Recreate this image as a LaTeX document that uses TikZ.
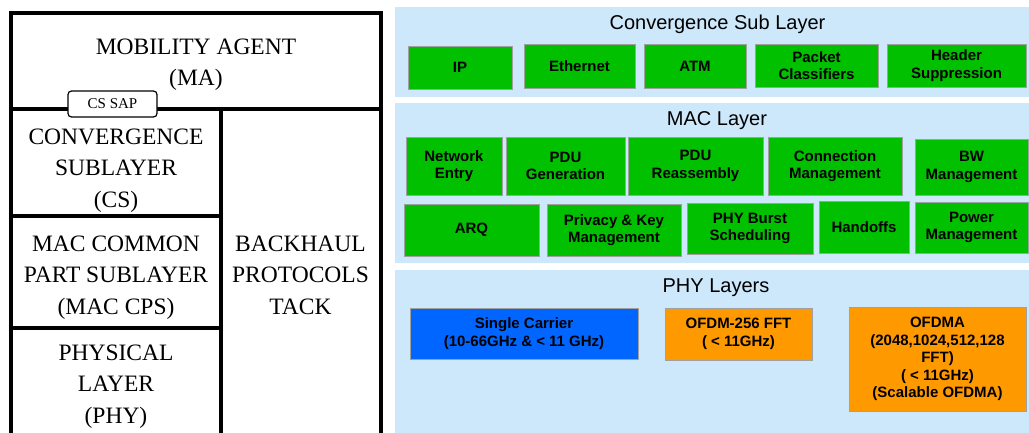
\documentclass[tikz,border=0pt]{standalone}
\usepackage{fontspec}
\setmainfont{Liberation Serif}
\newfontfamily\arialfont{Liberation Sans}
\definecolor{panelblue}{RGB}{204,232,250}
\definecolor{boxgreen}{RGB}{0,192,0}
\definecolor{boxblue}{RGB}{0,102,255}
\definecolor{boxorange}{RGB}{255,153,0}
\definecolor{boxedge}{RGB}{160,160,160}
\begin{document}
\begin{tikzpicture}[x=1pt,y=-1pt,
  box/.style n args={4}{at={({(#1+#3)/2},{(#2+#4)/2})}, minimum width={(#3)-(#1)}, minimum height={(#4)-(#2)}},
  layer/.style={draw=black, line width=4pt, inner sep=0pt, outer sep=0pt},
  serif/.style={font=\fontsize{23.5}{31.5}\selectfont, align=center, inner sep=0pt},
  sap/.style={draw=black, line width=1.2pt, fill=white, rounded corners=3.5pt, font=\fontsize{15}{18}\selectfont, inner sep=0pt},
  panel/.style={fill=panelblue, draw=none, inner sep=0pt},
  title/.style={font=\arialfont\fontsize{20}{24}\selectfont, anchor=base, inner sep=0pt},
  item/.style={draw=boxedge, line width=0.9pt, fill=boxgreen, font=\arialfont\bfseries\fontsize{15}{17.5}\selectfont, align=center, inner sep=0pt},
]
\useasboundingbox (0,0) rectangle (1029,433);
\fill[white] (0,0) rectangle (1029,433);

% ---------- left: protocol stack ----------
\node[layer, box={11}{13.5}{380.5}{109.5}] (ma) {};
\node[layer, box={11}{109.5}{221}{216}] (cs) {};
\node[layer, box={11}{216}{221}{327.5}] (cps) {};
\node[layer, box={11}{327.5}{221}{445}] (phy) {};
\node[layer, box={221}{109.5}{380.5}{445}] (bh) {};

\node[serif] (matext) at (196,64.5) {MOBILITY AGENT\\(MA)};
\node[serif] (cstext) at (116,170.5) {CONVERGENCE\\SUBLAYER\\(CS)};
\node[serif] (cpstext) at (116,277.5) {MAC COMMON\\PART SUBLAYER\\(MAC CPS)};
\node[serif] (phytext) at (116,386.5) {PHYSICAL\\LAYER\\(PHY)};
\node[serif] (bhtext) at (300.5,275) {BACKHAUL\\PROTOCOLS\\TACK};

\node[sap, box={68}{91}{157}{117}] (sap) {CS SAP};

% ---------- right: panels ----------
\node[panel, box={395}{7}{1029}{97}] (p1) {};
\node[panel, box={395}{103}{1029}{263}] (p2) {};
\node[panel, box={395}{270}{1029}{445}] (p3) {};

\node[title] (t1) at (717.5,30) {Convergence Sub Layer};
\node[title] (t2) at (717,126) {MAC Layer};
\node[title] (t3) at (716,292) {PHY Layers};

% convergence sub layer
\node[item, box={408}{46}{512}{89}] (ip) {IP};
\node[item, box={524}{44}{635}{88}] (eth) {Ethernet};
\node[item, box={644}{44}{746}{88}] (atm) {ATM};
\node[item, box={755}{44}{878}{87}] (pc) {Packet\\Classifiers};
\node[item, box={887}{44}{1026}{87}] (hs) {Header\\Suppression};

% MAC layer row 1
\node[item, box={406}{137}{502}{195}] (ne) {Network\\Entry};
\node[item, box={506}{137}{625}{195}] (pg) {PDU\\Generation};
\node[item, box={628}{137}{763}{195}] (pr) {PDU\\Reassembly};
\node[item, box={768}{137}{902}{195}] (cm) {Connection\\Management};
\node[item, box={915}{139}{1028}{195}] (bw) {BW\\Management};
% MAC layer row 2
\node[item, box={404}{204}{539}{256}] (arq) {ARQ};
\node[item, box={547}{204}{681}{256}] (pk) {Privacy \& Key\\Management};
\node[item, box={687}{203}{813}{254}] (pb) {PHY Burst\\Scheduling};
\node[item, box={819}{201}{909}{253}] (ho) {Handoffs};
\node[item, box={915}{202}{1028}{253}] (pm) {Power\\Management};

% PHY layers
\node[item, fill=boxblue, box={410}{308}{638}{359}] (sc) {Single Carrier\\(10-66GHz \& < 11 GHz)};
\node[item, fill=boxorange, box={665}{308}{812}{360}] (ofdm) {OFDM-256 FFT\\( < 11GHz)};
\node[item, fill=boxorange, box={849}{307}{1026}{411}] (ofdma) {OFDMA\\(2048,1024,512,128\\FFT)\\( < 11GHz)\\(Scalable OFDMA)};
\end{tikzpicture}
\end{document}
